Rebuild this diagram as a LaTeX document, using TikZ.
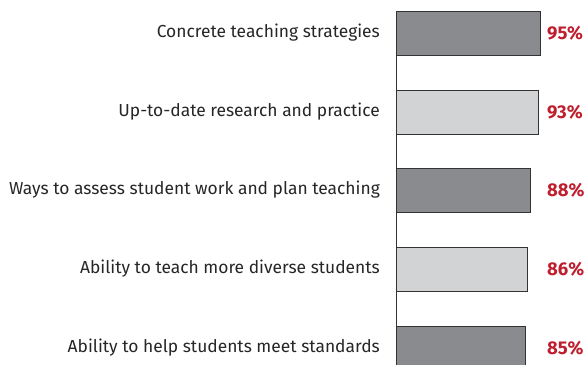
\documentclass[tikz,border=0pt]{standalone}
\usepackage{fontspec}
\setmainfont{Fira Sans}
\usepackage{tikz}
\usetikzlibrary{positioning}
\definecolor{bardark}{RGB}{138,139,143}
\definecolor{barlight}{RGB}{210,211,213}
\definecolor{pctred}{RGB}{190,30,45}

\begin{document}
\begin{tikzpicture}[x=1pt,y=-1pt,
		bar/.style={draw=black!80,line width=0.8pt,anchor=north west,minimum height=44pt,inner sep=0pt,outer sep=0pt},
		item/.style={text=black!85,font=\fontsize{17.4}{19}\selectfont,inner sep=0pt},
		pct/.style={anchor=west,text=pctred,font=\bfseries\fontsize{18.5}{20}\selectfont,inner sep=0pt}]
				\clip (0,0) rectangle (588,364);

				\node[bar,fill=bardark,minimum width=144pt] (b1) at (396,11) {};
				\node[bar,fill=barlight,minimum width=142pt] (b2) at (396,90) {};
				\node[bar,fill=bardark,minimum width=134pt] (b3) at (396,168) {};
				\node[bar,fill=barlight,minimum width=131pt] (b4) at (396,247) {};
				\node[bar,fill=bardark,minimum width=129pt] (b5) at (396,326) {};

				\coordinate (axtop) at (b1.north west);
				\coordinate (axbot) at (396,370);
				\draw[black!80,line width=0.8pt] (axtop) -- (axbot);

				\node[item,left=16pt of b1] (l1) {Concrete teaching strategies};
				\node[item,left=16pt of b2] (l2) {Up-to-date research and practice};
				\node[item,left=16pt of b3] (l3) {Ways to assess student work and plan teaching};
				\node[item,left=16pt of b4] (l4) {Ability to teach more diverse students};
				\node[item,left=16pt of b5] (l5) {Ability to help students meet standards};

				\node[pct] (p1) at (547,33) {95\%};
				\node[pct] (p2) at (547,112) {93\%};
				\node[pct] (p3) at (547,190) {88\%};
				\node[pct] (p4) at (547,269) {86\%};
				\node[pct] (p5) at (547,348) {85\%};

			\end{tikzpicture}
\end{document}
